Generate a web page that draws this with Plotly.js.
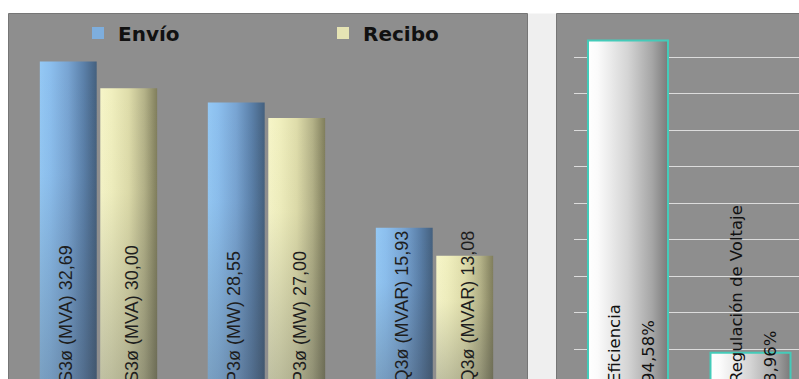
<!DOCTYPE html>
<html>
<head>
<meta charset="utf-8">
<script src="https://cdn.plot.ly/plotly-3.0.1.min.js"></script>
<style>
  html, body { margin: 0; padding: 0; background: #ffffff; overflow: hidden; }
  #chart { width: 799px; height: 379px; }
</style>
</head>
<body>
<div id="chart"></div>
<script>
// ---------- data ----------
const categories = ['S3ø (MVA)', 'P3ø (MW)', 'Q3ø (MVAR)'];
const seriesNames = ['Envío', 'Recibo'];
const envio = [32.69, 28.55, 15.93];
const recibo = [30.00, 27.00, 13.08];
const indicators = ['Eficiencia', 'Regulación de Voltaje'];
const indicatorValues = [94.58, 8.96];

// ---------- helpers ----------
const W = 799, H = 379, T = 20;
const px2x = px => px / W;
const py2y = py => (H - py) / (H - T);
const fmt = v => v.toFixed(2).replace('.', ',');

const data = [
  { type: 'bar', name: seriesNames[0], x: categories, y: envio, xaxis: 'x', yaxis: 'y',
    marker: { color: '#7eaedd', line: { width: 0 } }, hoverinfo: 'skip' },
  { type: 'bar', name: seriesNames[1], x: categories, y: recibo, xaxis: 'x', yaxis: 'y',
    marker: { color: '#e6e4b4', line: { width: 0 } }, hoverinfo: 'skip' },
  { type: 'bar', name: 'Indicadores', x: indicators, y: indicatorValues, xaxis: 'x2', yaxis: 'y2',
    width: 0.653, showlegend: false,
    marker: { color: '#d0d0d0', line: { color: '#44cbb9', width: 2 } }, hoverinfo: 'skip' }
];

const annotations = [];
const seriesVals = [envio, recibo];
seriesVals.forEach((vals, s) => {
  categories.forEach((c, i) => {
    annotations.push({
      xref: 'x', yref: 'y domain', x: c, y: 0, xshift: s === 0 ? -33 : 33, yshift: -6.5,
      xanchor: 'center', yanchor: 'bottom', textangle: -90, showarrow: false,
      text: c + ' ' + fmt(vals[i]),
      font: { family: 'Liberation Sans, Arial, sans-serif', size: 18, color: '#1e1e1e' }
    });
  });
});
indicators.forEach((name, j) => {
  [[name, -14], [fmt(indicatorValues[j]) + '%', 20]].forEach(([txt, sh]) => {
    annotations.push({
      xref: 'x2', yref: 'y2 domain', x: name, y: 0, xshift: sh, yshift: -6.5,
      xanchor: 'center', yanchor: 'bottom', textangle: -90, showarrow: false,
      text: txt,
      font: { family: 'DejaVu Sans, sans-serif', size: 16.5, color: '#111111' }
    });
  });
});

const panelGray = '#8e8e8e';
const layout = {
  width: W, height: H,
  margin: { l: 0, r: 0, t: T, b: 0, pad: 0 },
  paper_bgcolor: '#ffffff',
  plot_bgcolor: 'rgba(0,0,0,0)',
  barmode: 'group',
  bargap: 0.28,
  bargroupgap: 0.06,
  showlegend: true,
  legend: {
    orientation: 'h', x: px2x(78), xanchor: 'left', y: py2y(33), yanchor: 'middle',
    bgcolor: 'rgba(0,0,0,0)', borderwidth: 0,
    entrywidth: 200, entrywidthmode: 'pixels', itemwidth: 30,
    font: { family: 'DejaVu Sans, sans-serif', size: 20, color: '#111111', weight: 'bold' }
  },
  xaxis: { domain: [px2x(14.5), px2x(518.5)], range: [-0.5, 2.5], showticklabels: false,
           ticks: '', showgrid: false, zeroline: false, showline: false, anchor: 'y' },
  yaxis: { range: [0.656, 36.88], showticklabels: false, ticks: '', showgrid: false,
           zeroline: false, showline: false, anchor: 'x' },
  xaxis2: { domain: [px2x(574), 1], range: [-0.4408, 1.3959], showticklabels: false,
            ticks: '', showgrid: false, zeroline: false, showline: false, anchor: 'y2' },
  yaxis2: { range: [1.78, 100.19], dtick: 10, tick0: 0, showticklabels: false, ticks: '',
            showgrid: true, gridcolor: '#dcdcdc', gridwidth: 1, zeroline: false,
            showline: false, anchor: 'x2' },
  shapes: [
    { type: 'rect', xref: 'paper', yref: 'paper', layer: 'below',
      x0: px2x(8.5), x1: px2x(527.5), y0: py2y(400), y1: py2y(13.5),
      fillcolor: panelGray, line: { color: '#767676', width: 1 } },
    { type: 'rect', xref: 'paper', yref: 'paper', layer: 'below',
      x0: px2x(528), x1: px2x(556), y0: py2y(400), y1: py2y(13.5),
      fillcolor: '#efefef', line: { width: 0 } },
    { type: 'rect', xref: 'paper', yref: 'paper', layer: 'below',
      x0: px2x(556.5), x1: px2x(810), y0: py2y(400), y1: py2y(13.5),
      fillcolor: panelGray, line: { color: '#767676', width: 1 } }
  ],
  annotations: annotations
};

Plotly.newPlot('chart', data, layout, { staticPlot: true, displayModeBar: false }).then(gd => {
  const NS = 'http://www.w3.org/2000/svg';
  const svg = gd.querySelector('.main-svg');
  let defs = svg.querySelector('defs');
  if (!defs) { defs = document.createElementNS(NS, 'defs'); svg.insertBefore(defs, svg.firstChild); }
  function addGrad(id, stops, vertical) {
    const g = document.createElementNS(NS, 'linearGradient');
    g.setAttribute('id', id);
    g.setAttribute('x1', '0'); g.setAttribute('y1', '0');
    g.setAttribute('x2', vertical ? '0' : '1'); g.setAttribute('y2', vertical ? '1' : '0');
    stops.forEach(([o, c, a]) => {
      const s = document.createElementNS(NS, 'stop');
      s.setAttribute('offset', o);
      s.setAttribute('stop-color', c);
      s.setAttribute('stop-opacity', a === undefined ? 1 : a);
      g.appendChild(s);
    });
    defs.appendChild(g);
  }
  addGrad('grad0', [[0, '#94c8f4'], [0.18, '#8cbfee'], [0.5, '#78a4d2'], [0.78, '#5a7fa8'], [1, '#44607e']]);
  addGrad('grad1', [[0, '#f6f5c8'], [0.2, '#f0efbe'], [0.5, '#dedcaa'], [0.78, '#b3b187'], [1, '#807e5c']]);
  addGrad('grad2', [[0, '#ffffff'], [0.12, '#fbfbfb'], [0.5, '#d4d4d4'], [0.8, '#a6a6a6'], [1, '#7a7a7a']]);
  addGrad('vshade', [[0, '#3c4048', 0], [0.35, '#3c4048', 0.02], [1, '#3c4048', 0.3]], true);

  gd.querySelectorAll('.barlayer .trace').forEach(tr => {
    const cd = tr.__data__;
    const idx = cd && cd[0] && cd[0].trace ? cd[0].trace.index : null;
    if (idx === null) return;
    tr.querySelectorAll('.point path').forEach(p => {
      p.style.fill = 'url(#grad' + idx + ')';
      p.style.fillOpacity = 1;
      if (idx < 2) {
        const c = p.cloneNode(true);
        c.style.fill = 'url(#vshade)';
        c.style.stroke = 'none';
        p.parentNode.appendChild(c);
      }
    });
  });
});
</script>
</body>
</html>
